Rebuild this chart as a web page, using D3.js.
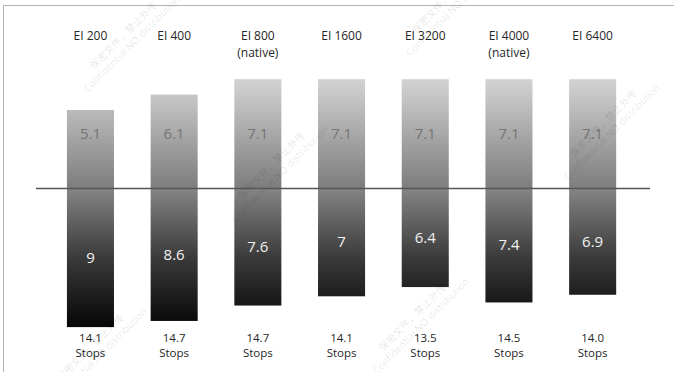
<!DOCTYPE html>
<html>
<head>
<meta charset="utf-8">
<script src="https://cdn.jsdelivr.net/npm/d3@7"></script>
<style>
  body { margin: 0; background: #fff; }
  svg { display: block; font-family: "Open Sans", "Noto Sans", sans-serif; }
</style>
</head>
<body>
<script>
// chart data
var categories = ["EI 200", "EI 400", "EI 800", "EI 1600", "EI 3200", "EI 4000", "EI 6400"];
var subLabels = ["", "", "(native)", "", "", "(native)", ""];
var aboveValues = [5.1, 6.1, 7.1, 7.1, 7.1, 7.1, 7.1];
var belowValues = [9, 8.6, 7.6, 7, 6.4, 7.4, 6.9];
var stopLabels = ["14.1", "14.7", "14.7", "14.1", "13.5", "14.5", "14.0"];

var W = 674, H = 372;

var svg = d3.select("body").append("svg")
    .attr("width", W)
    .attr("height", H);

// frame
svg.append("rect")
    .attr("x", 3.5).attr("y", 5.5)
    .attr("width", W + 10).attr("height", H + 10)
    .attr("fill", "none")
    .attr("stroke", "#b3b3b3")
    .attr("stroke-width", 1);

var x = d3.scaleBand()
    .domain(categories)
    .range([48.6, 634.5])
    .paddingInner(0.438)
    .paddingOuter(0.219);

var y = d3.scaleLinear()
    .domain([-10, 8])
    .range([342.5, 65.3]);

var defs = svg.append("defs");
var gTop = defs.append("linearGradient")
    .attr("id", "gTop")
    .attr("gradientUnits", "userSpaceOnUse")
    .attr("x1", 0).attr("x2", 0)
    .attr("y1", y(d3.max(aboveValues))).attr("y2", y(0));
gTop.append("stop").attr("offset", 0).attr("stop-color", "#d3d3d3");
gTop.append("stop").attr("offset", 1).attr("stop-color", "#7d7d7d");

var gBot = defs.append("linearGradient")
    .attr("id", "gBot")
    .attr("gradientUnits", "userSpaceOnUse")
    .attr("x1", 0).attr("x2", 0)
    .attr("y1", y(0)).attr("y2", y(-d3.max(belowValues)));
gBot.append("stop").attr("offset", 0).attr("stop-color", "#858585");
gBot.append("stop").attr("offset", 0.5).attr("stop-color", "#3a3a3a");
gBot.append("stop").attr("offset", 1).attr("stop-color", "#060606");

var data = categories.map(function(c, i) {
    return {cat: c, sub: subLabels[i], up: aboveValues[i], down: belowValues[i], stops: stopLabels[i]};
});

var group = svg.selectAll("g.bar")
    .data(data)
    .enter()
    .append("g")
    .attr("class", "bar");

group.append("rect")
    .attr("x", function(d) { return x(d.cat); })
    .attr("y", function(d) { return y(d.up); })
    .attr("width", x.bandwidth())
    .attr("height", function(d) { return y(0) - y(d.up); })
    .attr("fill", "url(#gTop)");

group.append("rect")
    .attr("x", function(d) { return x(d.cat); })
    .attr("y", y(0))
    .attr("width", x.bandwidth())
    .attr("height", function(d) { return y(-d.down) - y(0); })
    .attr("fill", "url(#gBot)");

// zero line
svg.append("line")
    .attr("x1", 36).attr("x2", 650)
    .attr("y1", y(0)).attr("y2", y(0))
    .attr("stroke", "#5a5553")
    .attr("stroke-width", 1.5);

var cx = function(d) { return x(d.cat) + x.bandwidth() / 2; };

// value labels
var topLabelY = (y(d3.max(aboveValues)) + y(0)) / 2 + 5;
group.append("text")
    .attr("x", cx)
    .attr("y", topLabelY)
    .attr("text-anchor", "middle")
    .attr("font-size", "15px")
    .attr("fill", "#757575")
    .text(function(d) { return d.up; });

group.append("text")
    .attr("x", cx)
    .attr("y", function(d) { return (y(0) + y(-d.down)) / 2 + 5; })
    .attr("text-anchor", "middle")
    .attr("font-size", "15px")
    .attr("fill", "#f2f2f2")
    .text(function(d) { return d.down; });

// category labels
group.append("text")
    .attr("x", cx)
    .attr("y", 40)
    .attr("text-anchor", "middle")
    .attr("font-size", "12px")
    .attr("fill", "#262626")
    .text(function(d) { return d.cat; });

group.append("text")
    .attr("x", cx)
    .attr("y", 57)
    .attr("text-anchor", "middle")
    .attr("font-size", "12px")
    .attr("fill", "#262626")
    .text(function(d) { return d.sub; });

// stops labels
group.append("text")
    .attr("x", cx)
    .attr("y", 342)
    .attr("text-anchor", "middle")
    .attr("font-size", "11.5px")
    .attr("fill", "#262626")
    .text(function(d) { return d.stops; });

group.append("text")
    .attr("x", cx)
    .attr("y", 357)
    .attr("text-anchor", "middle")
    .attr("font-size", "11.5px")
    .attr("fill", "#262626")
    .text("Stops");

// watermarks
var marks = [[128, 40], [450, 4], [276, 170], [608, 128], [95, 352], [417, 322]];
var wm = svg.selectAll("g.wm")
    .data(marks)
    .enter()
    .append("g")
    .attr("class", "wm")
    .attr("transform", function(d) { return "translate(" + d[0] + "," + d[1] + ") rotate(-45)"; })
    .attr("fill", "#000")
    .attr("fill-opacity", 0.11)
    .attr("font-size", "10px")
    .attr("text-anchor", "middle");
wm.append("text").attr("y", -3).attr("font-family", "'Noto Sans CJK SC', sans-serif")
    .text("保密文件，禁止外传");
wm.append("text").attr("y", 9).text("Confidential NO distribution");
</script>
</body>
</html>
